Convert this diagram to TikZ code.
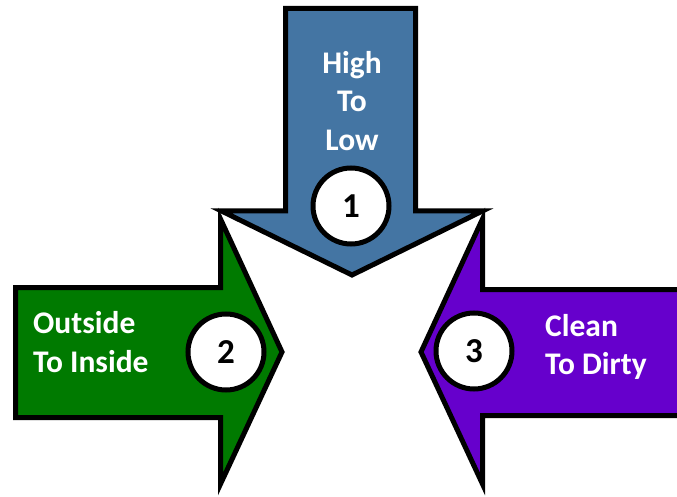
\documentclass[tikz,border=0pt]{standalone}
\usepackage{fontspec}
\setmainfont{Carlito}
\definecolor{arrowblue}{RGB}{68,117,163}
\definecolor{arrowgreen}{RGB}{0,122,0}
\definecolor{arrowpurple}{RGB}{102,0,204}
\tikzset{
  bigarrow/.style={draw=black,line width=5pt,line join=miter,miter limit=20},
  numcircle/.style={circle,draw=black,line width=5pt,fill=white,minimum size=76pt,inner sep=0pt,font=\fontsize{35}{35}\selectfont\bfseries},
  arrowtext/.style={text=white,inner sep=0pt,font=\fontsize{31.5}{38.5}\selectfont\bfseries}
}
\begin{document}
\begin{tikzpicture}[x=1pt,y=-1pt]
            \clip (0,0) rectangle (677,497);

            \begin{scope}
                % green and purple arrows
                \draw [bigarrow,fill=arrowgreen] (15.5,287.5) -- (220.5,287.5) -- (220.5,219) -- (282,352)
                    -- (220.5,484) -- (220.5,417.5) -- (15.5,417.5) -- cycle;
                \draw [bigarrow,fill=arrowpurple] (700,289.5) -- (482.5,289.5) -- (482.5,219) -- (421,352)
                    -- (482.5,484) -- (482.5,415.5) -- (700,415.5) -- cycle;
                % blue arrow
                \draw [bigarrow,fill=arrowblue] (285.5,8.5) -- (415.5,8.5) -- (415.5,211) -- (482.5,211)
                    -- (352,275) -- (221.5,211) -- (285.5,211) -- cycle;
            \end{scope}

            \begin{scope}[every node/.style={arrowtext}]
                \node [align=center] (high) at (352,101) {High\\To\\Low};
                \node [align=left,anchor=west] (outside) at (33,342) {Outside\\To Inside};
                \node [align=left,anchor=west] (clean) at (545,347) {Clean\\To Dirty};
            \end{scope}

            \begin{scope}[every node/.style={numcircle}]
                \node (one) at (351,206) {1};
                \node (two) at (226,352) {2};
                \node (three) at (474,351) {3};
            \end{scope}
            \end{tikzpicture}
\end{document}
